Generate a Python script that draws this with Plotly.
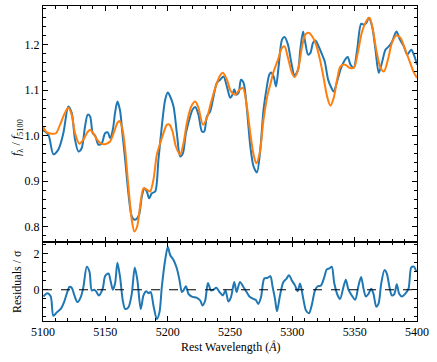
import plotly.graph_objects as go
from plotly.subplots import make_subplots

# ---- data ----
obs_wave = [5100, 5104.3, 5108.3, 5112.3, 5116.3, 5120.3, 5123, 5125.7, 5128.4, 5131, 5133.7, 5135.9,
            5137.8, 5139.9, 5141.8, 5144.4, 5147.1, 5149.8, 5152, 5153.8, 5156, 5157.8, 5159.7, 5161.8,
            5163.7, 5165.9, 5168.5, 5171.2, 5173.3, 5175.2, 5177.1, 5179.3, 5181.4, 5183.3, 5185.1,
            5187.3, 5190, 5192.6, 5195.3, 5198, 5200.1, 5202, 5204.7, 5207.4, 5210, 5212.2, 5214.6,
            5217.3, 5219.9, 5222.1, 5224.7, 5227.5, 5229.3, 5231.5, 5234.1, 5236.8, 5239.5, 5242.2,
            5244.8, 5247.5, 5250.2, 5252, 5253.4, 5255, 5256.9, 5258.8, 5260.9, 5263.6, 5266.3, 5268.9,
            5271.6, 5274.3, 5276.9, 5279.7, 5281.5, 5282.9, 5285, 5286.9, 5289, 5291.7, 5293.8, 5296.5,
            5299.2, 5301.8, 5304.6, 5306.4, 5308.6, 5310.4, 5312.6, 5314.5, 5316.6, 5318.5, 5321.1,
            5323.9, 5326, 5328.7, 5331.3, 5333.2, 5335.9, 5338.6, 5341.2, 5344.4, 5346.6, 5349.2, 5352,
            5355.2, 5357.3, 5359.4, 5361.3, 5364, 5366.7, 5369.3, 5372.1, 5374.7, 5377.4, 5380.1,
            5383.5, 5386.3, 5389.5, 5392.2, 5395.4, 5397.5, 5400]
obs_flux = [1.012, 1.002, 0.959, 0.969, 1.005, 1.064, 1.05, 0.991, 0.965, 0.972, 1.02, 1.046,
            1.042, 1.005, 1.0, 0.98, 0.983, 1.005, 1.007, 0.994, 1.013, 1.05, 1.075, 1.055,
            1.005, 0.947, 0.873, 0.822, 0.815, 0.817, 0.826, 0.866, 0.884, 0.877, 0.862,
            0.873, 0.877, 0.947, 1.02, 1.079, 1.095, 1.086, 1.064, 1.005, 0.954, 0.961, 1.005,
            1.035, 1.057, 1.063, 1.046, 1.009, 1.009, 1.042, 1.053, 1.086, 1.116, 1.123,
            1.130, 1.108, 1.083, 1.09, 1.102, 1.09, 1.094, 1.123, 1.116, 1.057, 0.976, 0.932,
            0.919, 0.969, 1.057, 1.110, 1.134, 1.139, 1.130, 1.108, 1.152, 1.211, 1.217, 1.2,
            1.16, 1.132, 1.145, 1.189, 1.229, 1.204, 1.178, 1.182, 1.204, 1.209, 1.196,
            1.178, 1.163, 1.123, 1.105, 1.097, 1.119, 1.145, 1.162, 1.173, 1.156, 1.149, 1.189,
            1.246, 1.244, 1.248, 1.259, 1.240, 1.189, 1.138, 1.163, 1.189, 1.196, 1.207,
            1.229, 1.211, 1.196, 1.178, 1.189, 1.178, 1.156]

model_wave = [5100, 5103, 5107, 5110.4, 5113.7, 5116.9, 5120.3, 5123, 5125.7, 5129.2, 5132.4, 5135.1,
              5137.8, 5140.4, 5143.1, 5146.3, 5149.8, 5153.8, 5157, 5159.7, 5161.3, 5163.7, 5165.9,
              5168.5, 5171.2, 5173.3, 5175.5, 5177.9, 5180.6, 5183.3, 5185.9, 5188.6, 5191.3, 5194,
              5196.6, 5199.4, 5201.5, 5203.9, 5206.6, 5210, 5212.7, 5215.4, 5218.9, 5222.1, 5224.7,
              5228.3, 5231.5, 5234.7, 5238.2, 5241.6, 5244.3, 5247.5, 5250.8, 5254.2, 5257.7, 5260.4,
              5263.1, 5266.3, 5268.9, 5271.1, 5273.8, 5276.9, 5280.2, 5282.3, 5285, 5288.5, 5291.7,
              5293.8, 5296.5, 5299.7, 5301.8, 5304.6, 5307.8, 5310.4, 5313.1, 5316.6, 5319.8, 5322.5,
              5325.1, 5327.9, 5330.5, 5333.2, 5335.9, 5338.6, 5342.4, 5345.8, 5349.4, 5352.5, 5355.7,
              5359.2, 5361.9, 5364.6, 5367.3, 5370.7, 5373.5, 5376.7, 5379.9, 5383.4, 5386.8, 5390,
              5394.1, 5397.6, 5400]
model_flux = [1.02, 1.007, 1.004, 1.005, 1.024, 1.046, 1.061, 1.046, 1.005, 0.982, 0.991, 1.005,
              1.013, 1.005, 0.992, 0.983, 0.981, 0.987, 1.008, 1.028, 1.032, 1.015, 0.969,
              0.888, 0.815, 0.789, 0.80, 0.844, 0.884, 0.881, 0.877, 0.903, 0.958, 0.983,
              1.005, 1.024, 1.024, 1.009, 0.976, 0.958, 0.983, 1.028, 1.064, 1.075, 1.061,
              1.024, 1.039, 1.072, 1.105, 1.13, 1.138, 1.123, 1.097, 1.09, 1.101, 1.105,
              1.072, 1.005, 0.958, 0.939, 0.961, 1.035, 1.09, 1.112, 1.141, 1.167, 1.193,
              1.196, 1.171, 1.138, 1.129, 1.145, 1.196, 1.222, 1.226, 1.215, 1.193, 1.163,
              1.127, 1.086, 1.066, 1.083, 1.123, 1.152, 1.156, 1.149, 1.149, 1.182, 1.226,
              1.251, 1.259, 1.233, 1.189, 1.149, 1.141, 1.167, 1.204, 1.220, 1.215, 1.193,
              1.163, 1.138, 1.127]

res_wave = [5100.3, 5103.5, 5106.2, 5108.3, 5111, 5114.2, 5116.9, 5119, 5121.2, 5123, 5125.2, 5127.6,
            5130.3, 5132.4, 5135.1, 5137.3, 5139.1, 5141, 5142.5, 5144.8, 5147.9, 5149.8, 5152.5,
            5154.4, 5156, 5157.8, 5159.7, 5161.8, 5164, 5165.9, 5168.5, 5171.2, 5173.6, 5175.7,
            5178.4, 5180.6, 5182.7, 5184.6, 5186.4, 5188.6, 5191.3, 5193.4, 5195.3, 5198, 5200.1,
            5202, 5204.7, 5207.4, 5209.5, 5211.4, 5212.7, 5214.6, 5216.7, 5219.4, 5223.4, 5226.1,
            5228, 5230.1, 5232.3, 5234.7, 5236.8, 5239, 5241.6, 5244.3, 5246.4, 5248.7, 5250.8,
            5253.4, 5255.3, 5258, 5260.7, 5263.3, 5266, 5268.7, 5270.6, 5272.7, 5274.9, 5277.5,
            5280.2, 5282.4, 5284.2, 5286.1, 5287.7, 5290.1, 5292.8, 5295.4, 5297.3, 5299.5, 5302.1,
            5304.3, 5306.2, 5308.8, 5311, 5313.4, 5315.5, 5318.2, 5320.4, 5323, 5325.7, 5327.6,
            5329.7, 5331.6, 5333.7, 5336.4, 5338.3, 5341, 5342.9, 5345, 5347.7, 5350.4, 5353.1,
            5355.2, 5357.1, 5359, 5361.1, 5363.3, 5365.1, 5367.3, 5369.1, 5371.3, 5373.9, 5375.8,
            5377.9, 5379.8, 5381.7, 5383.8, 5385.7, 5387.9, 5390.5, 5393.2, 5395.4, 5397.5, 5399.4]
res_sigma = [-0.38, -0.19, -0.38, -1.45, -1.26, -1.07, -0.69, -0.23, 0.15, 0.11, -0.32, -0.69,
             -0.41, 0.15, 1.28, 1.0, -0.04, 0.0, -0.08, -0.32, 0.06, 0.75, 0.9,
             0.43, 0.0, 0.34, 1.5, 0.71, -0.6, -1.07, -0.98, -0.23, 1.24, 0.53,
             -1.07, -0.32, -0.08, -0.19, -0.13, -0.88, -1.63, -1.26, 0.15, 1.65, 2.37,
             1.93, 1.65, 1.18, 0.53, -0.13, -0.04, 0.19, -0.23, -0.38, -0.45, -0.6,
             -0.88, -0.6, 0.38, -0.04, 0.0, 0.11, -0.13, -0.32, -0.04, -0.65, -0.41,
             0.43, -0.13, 0.43, 0.15, -0.13, -0.41, -0.51, -0.56, -0.79, -0.41, 0.62,
             0.66, 0.75, 0.15, -0.51, -1.2, -0.32, 0.43, 0.62, 0.81, 0.53, 0.24,
             -0.08, 0.34, -0.51, -1.16, -1.31, -0.88, -0.04, 0.19, 0.24, 0.71, 1.13,
             1.18, 1.28, 0.34, -0.32, -0.51, 0.15, 0.56, 0.0, -0.32, -0.56, 0.24,
             0.71, 0.06, -0.38, -0.23, 0.06, -0.23, -0.94, -0.79, 0.34, 1.09, 0.9,
             0.15, -0.32, -0.26, 0.3, -0.23, -0.38, -0.23, 0.06, 1.24, 1.28, 1.0]

x_range = [5100, 5400]
top_range = [0.765, 1.285]
bot_range = [-1.74, 2.63]

BLUE = "#1f77b4"
ORANGE = "#ff7f0e"
FONT = "Liberation Serif"

fig = make_subplots(rows=2, cols=1, shared_xaxes=True, vertical_spacing=0,
                    row_heights=[0.7505, 0.2495])

fig.add_trace(go.Scatter(x=obs_wave, y=obs_flux, mode="lines",
                         line=dict(color=BLUE, width=2, shape="spline", smoothing=0.8),
                         showlegend=False), row=1, col=1)
fig.add_trace(go.Scatter(x=model_wave, y=model_flux, mode="lines",
                         line=dict(color=ORANGE, width=2, shape="spline", smoothing=0.8),
                         showlegend=False), row=1, col=1)
fig.add_trace(go.Scatter(x=res_wave, y=res_sigma, mode="lines",
                         line=dict(color=BLUE, width=2, shape="spline", smoothing=0.8),
                         showlegend=False), row=2, col=1)
fig.add_trace(go.Scatter(x=x_range, y=[0, 0], mode="lines",
                         line=dict(color="black", width=1.1, dash="dash"),
                         showlegend=False), row=2, col=1)

axis_common = dict(showline=True, linecolor="black", linewidth=1, mirror="allticks",
                   ticks="inside", ticklen=5, tickwidth=1, tickcolor="black",
                   showgrid=False, zeroline=False, automargin=False,
                   tickfont=dict(family=FONT, size=12, color="black"))

fig.update_xaxes(**axis_common, range=x_range, dtick=50, tick0=5100,
                 minor=dict(dtick=10, ticks="inside", ticklen=3, tickcolor="black", showgrid=False))
fig.update_xaxes(showticklabels=False, row=1, col=1)

fig.update_yaxes(**axis_common)
fig.update_yaxes(range=top_range, dtick=0.1, tick0=0.8, tickformat=".1f",
                 minor=dict(dtick=0.02, ticks="inside", ticklen=3, tickcolor="black", showgrid=False),
                 row=1, col=1)
fig.update_yaxes(range=bot_range, dtick=2, tick0=0,
                 minor=dict(dtick=0.5, ticks="inside", ticklen=3, tickcolor="black", showgrid=False),
                 row=2, col=1)

fig.add_annotation(text="<i>f</i><sub>λ</sub> / <i>f</i><sub>5100</sub>",
                   xref="paper", yref="paper", x=0, y=(321 - 138) / 315, xshift=-26,
                   xanchor="center", yanchor="middle", textangle=-90, showarrow=False,
                   font=dict(family=FONT, size=12, color="black"))
fig.add_annotation(text="Residuals / σ",
                   xref="paper", yref="paper", x=0, y=(321 - 282) / 315, xshift=-26,
                   xanchor="center", yanchor="middle", textangle=-90, showarrow=False,
                   font=dict(family=FONT, size=12, color="black"))
fig.add_annotation(text="Rest Wavelength (<i>Å</i>)",
                   xref="paper", yref="paper", x=0.5, y=0, yshift=-26,
                   xanchor="center", yanchor="middle", showarrow=False,
                   font=dict(family=FONT, size=12, color="black"))

fig.update_layout(width=437, height=362,
                  margin=dict(l=43, r=20, t=6, b=41, autoexpand=False),
                  paper_bgcolor="white", plot_bgcolor="white",
                  font=dict(family=FONT, size=12, color="black"))

fig.write_html("out.html", config={"displayModeBar": False},
               post_script="document.body.style.margin='0';document.body.style.overflow='hidden';")
